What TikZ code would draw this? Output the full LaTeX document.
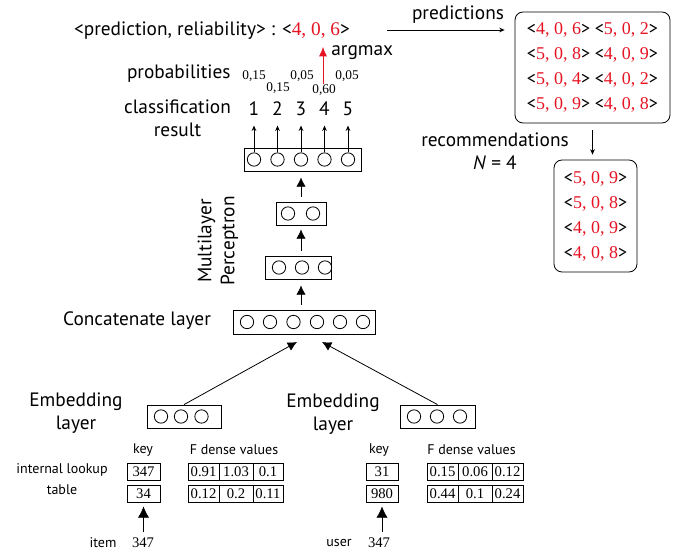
\documentclass[tikz,border=0pt]{standalone}
\usepackage{fontspec}
\setmainfont{PT Sans}
\newfontfamily\numfont{Liberation Serif}
\usepackage{xcolor}
\usetikzlibrary{arrows.meta, positioning}

\definecolor{predred}{RGB}{230,20,35}
% <a, b, c> tuple with red serif digits
\newcommand{\tup}[3]{<\textcolor{predred}{\numfont #1, #2, #3}>}

\begin{document}
\begin{tikzpicture}[x=0.75pt, y=-0.75pt, line width=0.6pt,
    txt/.style={font=\fontsize{14.5}{17.25}\selectfont, align=center, inner sep=0pt},
    small/.style={font=\fontsize{10.5}{15.75}\selectfont, align=center, inner sep=0pt},
    num/.style={font=\fontsize{11}{12}\numfont, inner sep=0pt},
    prob/.style={font=\fontsize{10}{11}\numfont, inner sep=0pt},
    layer/.style={draw, minimum height=17.25pt, inner sep=0pt},
    neuron/.style={draw, circle, minimum size=10pt, inner sep=0pt},
    cell/.style={draw, minimum height=12.75pt, inner sep=0pt, font=\fontsize{11}{12}\numfont},
    result/.style={draw, rounded corners=6pt, align=center, inner sep=0pt,
        font=\fontsize{13.5}{18.75}\selectfont},
    bigarrow/.style={-{Latex[length=7pt, width=7pt]}},
    smallarrow/.style={-{Stealth[length=4pt, width=3.5pt]}}
]
    \useasboundingbox (0,0) rectangle (683,552);

    % Output layer and classes
    \node[layer, minimum width=87.75pt] (out) at (302.5,159.5) {};
    \foreach \x [count=\i] in {254,277.5,301,324.5,348} {
        \node[neuron] (o\i) at (\x,159.5) {};
        \node[txt] (c\i) at (\x,109) {\i};
        \draw[smallarrow, shorten >=7pt] (o\i.north) -- (c\i.south);
    }
    \node[txt, anchor=east] (problbl) at (231,74) {probabilities};
    \node[txt] (classlbl) at (177.5,118.5) {classification\\result};

    % Probabilities
    \node[prob] (p1) at (254,76) {0,15};
    \node[prob] (p2) at (278,88) {0,15};
    \node[prob] (p3) at (302,76) {0,05};
    \node[prob] (p4) at (324,90) {0,60};
    \node[prob] (p5) at (347,76) {0,05};

    % Prediction of one pair
    \node[txt] (title) at (212,31) {<prediction, reliability> : \tup{4}{0}{6}};
    \coordinate (amax) at (323,47);
    \draw[-{Latex[length=7pt, width=6pt]}, predred] (p4.north -| amax) -- (amax);
    \node[txt, anchor=west] (argmax) at (331,53) {argmax};

    % Hidden layers
    \node[layer, minimum width=37.5pt] (h2) at (301,213.5) {};
    \foreach \x in {288,313}
        \node[neuron] at (\x,213.5) {};
    \node[layer, minimum width=49.5pt] (h1) at (298,267.5) {};
    \foreach \x in {279,302,325}
        \node[neuron] at (\x,267.5) {};
    \node[layer, minimum width=106.5pt, minimum height=18pt] (cat) at (304,322) {};
    \foreach \x in {247,270,293.5,317,340,363}
        \node[neuron] at (\x,322) {};

    \draw[bigarrow, shorten <=3.75pt, shorten >=4.5pt] (h2.north -| h2) -- (out.south -| h2);
    \draw[bigarrow, shorten <=3.75pt, shorten >=3pt] (h1.north -| h2) -- (h2.south -| h2);
    \draw[bigarrow, shorten <=3.75pt, shorten >=4.5pt] (cat.north -| h2) -- (h1.south -| h2);

    \node[txt, rotate=90] (mlp) at (218,241) {Multilayer\\Perceptron};
    \node[txt] (catlbl) at (137,321) {Concatenate layer};

    % Embedding layers
    \node[layer, minimum width=55.5pt] (embI) at (184,416.5) {};
    \foreach \x in {161,181,201.5}
        \node[neuron] at (\x,416.5) {};
    \node[layer, minimum width=56.25pt] (embU) at (437.5,416.5) {};
    \foreach \x in {414,437,460}
        \node[neuron] at (\x,416.5) {};
    \node[txt] (embIlbl) at (76,413) {Embedding\\layer};
    \node[txt] (embUlbl) at (333,414) {Embedding\\layer};

    \coordinate (catin1) at (297,342);
    \coordinate (catin2) at (322,342);
    \draw[bigarrow] (embI.north) -- (catin1);
    \draw[bigarrow] (embU.north) -- (catin2);

    % Item lookup table
    \node[small] (lookup) at (62,479.5) {internal lookup\\table};
    \node[small] (keyIlbl) at (143,450) {key};
    \node[small] (densIlbl) at (234,450) {F dense values};
    \node[cell, minimum width=24.75pt] (keyI1) at (143.5,471.5) {347};
    \node[cell, minimum width=24.75pt] (keyI2) at (143.5,493.5) {34};
    \foreach \v/\x/\w [count=\i] in {0.91/203.5/23.25pt, 1.03/236/25.5pt, 0.1/268/22.5pt}
        \node[cell, minimum width=\w] (dIa\i) at (\x,471.5) {\v};
    \foreach \v/\x/\w [count=\i] in {0.12/203.5/23.25pt, 0.2/236/25.5pt, 0.11/268/22.5pt}
        \node[cell, minimum width=\w] (dIb\i) at (\x,493.5) {\v};
    \node[small] (item) at (103,543) {item};
    \node[num] (itemid) at (143,543) {347};
    \draw[-{Latex[length=8.5pt, width=8.5pt]}, shorten <=4pt, shorten >=3pt]
        (itemid.north -| keyI2) -- (keyI2.south);

    % User lookup table
    \node[small] (keyUlbl) at (379,450) {key};
    \node[small] (densUlbl) at (471.5,450) {F dense values};
    \node[cell, minimum width=24pt] (keyU1) at (382,471.5) {31};
    \node[cell, minimum width=24pt] (keyU2) at (382,493.5) {980};
    \foreach \v/\x/\w [count=\i] in {0.15/442.5/23.25pt, 0.06/475/25.5pt, 0.12/507.5/23.25pt}
        \node[cell, minimum width=\w] (dUa\i) at (\x,471.5) {\v};
    \foreach \v/\x/\w [count=\i] in {0.44/442.5/23.25pt, 0.1/475/25.5pt, 0.24/507.5/23.25pt}
        \node[cell, minimum width=\w] (dUb\i) at (\x,493.5) {\v};
    \node[small] (user) at (339,543) {user};
    \node[num] (userid) at (379,543) {347};
    \draw[-{Latex[length=8.5pt, width=8.5pt]}, shorten <=4pt, shorten >=3pt]
        (userid.north -| keyU2) -- (keyU2.south);

    % All predictions and the top N
    \node[txt] (predlbl) at (458,15) {predictions};
    \coordinate (predfrom) at (387,30);
    \node[result, minimum width=116.25pt, minimum height=83.25pt] (pred) at (592.5,67.5)
        {\tup{4}{0}{6} \tup{5}{0}{2}\\ \tup{5}{0}{8} \tup{4}{0}{9}\\
         \tup{5}{0}{4} \tup{4}{0}{2}\\ \tup{5}{0}{9} \tup{4}{0}{8}};
    \draw[smallarrow, shorten >=7.5pt] (predfrom) -- (pred.west |- predfrom);

    \node[txt] (reclbl) at (495,151.5) {recommendations\\\textit{N} = 4};
    \node[result, minimum width=62.25pt, minimum height=84pt] (rec) at (595.5,216)
        {\tup{5}{0}{9}\\ \tup{5}{0}{8}\\ \tup{4}{0}{9}\\ \tup{4}{0}{8}};
    \draw[smallarrow, shorten <=5pt, shorten >=3.75pt] (pred.south) -- (pred.south |- rec.north);
\end{tikzpicture}
\end{document}
